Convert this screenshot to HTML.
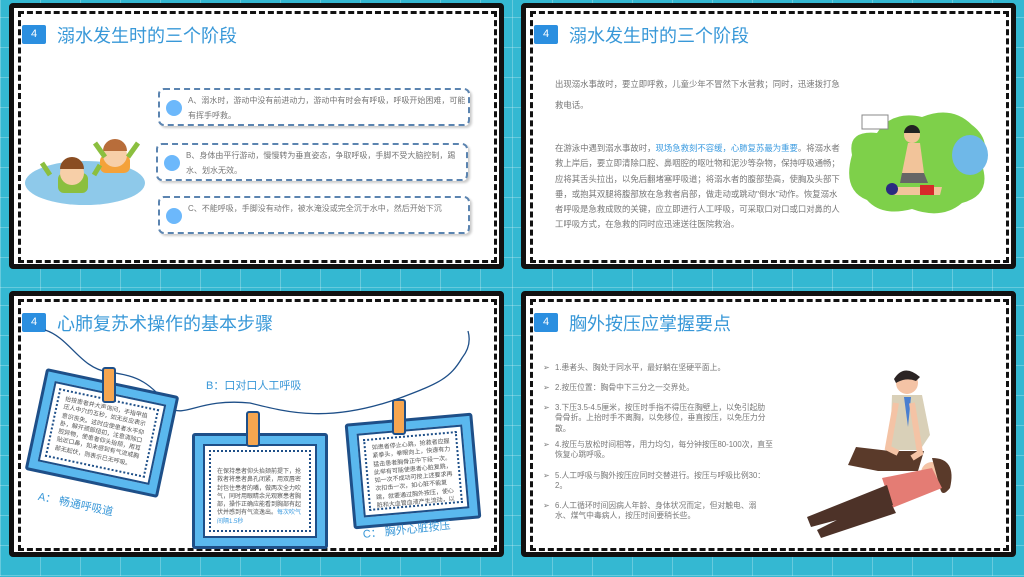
<!DOCTYPE html>
<html><head><meta charset="utf-8"><style>
*{margin:0;padding:0;box-sizing:border-box}
body{width:1024px;height:577px;overflow:hidden;background:#35b9d3;font-family:"Liberation Sans","Noto Sans CJK SC",sans-serif;position:relative}
.q{position:absolute;width:512px;height:288px;overflow:hidden;background:repeating-linear-gradient(90deg,rgba(255,255,255,.25) 0 1px,transparent 1px 40px),repeating-linear-gradient(0deg,rgba(255,255,255,.25) 0 1px,transparent 1px 30px),#34b8d2}
.card{position:absolute;left:9px;top:3px;width:495px;height:266px;background:#fff;border:5px solid #111;border-radius:4px}
.dash{position:absolute;left:18px;top:11px;width:479px;height:252px;border:3px dashed #111}
.badge{position:absolute;left:22px;top:25px;width:24px;height:19px;background:#2b8fe0;border-radius:2px;color:#fff;font-size:11px;text-align:center;line-height:19px}
.title{position:absolute;left:57px;top:22px;font-size:18px;color:#3898d8;white-space:nowrap}
.t{position:absolute;font-size:8.4px;color:#777;line-height:15px}
.box{position:absolute;left:158px;width:312px;height:38px;border:2px dashed #5b84b0;border-radius:6px;box-shadow:2px 2px 2px #ccc;background:#fff}
.box i{position:absolute;left:6px;top:10px;width:16px;height:16px;border-radius:50%;background:#6cb8fb}
.box span{position:absolute;left:28px;top:3px;width:282px;font-size:8px;color:#777;line-height:15px}
.pc{position:absolute;background:#5ab8ee;border:3px solid #1e4f88;border-radius:3px}
.pc .in{position:absolute;left:8px;top:8px;right:8px;bottom:8px;background:#fff;border:2px solid #1e4f88}
.pc .dd{position:absolute;left:4px;top:4px;right:4px;bottom:4px;border:2px dotted #1e4f88;padding:4px 6px;font-size:6px;color:#555;line-height:8.3px;overflow:hidden}
.clip{position:absolute;width:14px;height:36px;background:#f6a650;border:2px solid #1e4f88;border-radius:3px}
.lab{position:absolute;font-size:11px;color:#3a98d8;white-space:nowrap}
.li{position:absolute;left:43px;font-size:7.8px;color:#777;line-height:10.3px;width:215px}
.li b{position:absolute;left:-12px;font-weight:normal;color:#777}
</style></head><body>

<!-- Q1 -->
<div class="q" style="left:0;top:0">
<div class="card"></div><div class="dash"></div>
<div class="badge">4</div><div class="title">溺水发生时的三个阶段</div>
<div class="box" style="top:88px"><i></i><span>A、溺水时，游动中没有前进动力，游动中有时会有呼吸，呼吸开始困难，可能有挥手呼救。</span></div>
<div class="box" style="top:143px;left:156px"><i></i><span>B、身体由平行游动，慢慢转为垂直姿态，争取呼吸，手脚不受大脑控制，踢水、划水无效。</span></div>
<div class="box" style="top:196px"><i></i><span>C、不能呼吸，手脚没有动作，被水淹没或完全沉于水中，然后开始下沉</span></div>
<svg style="position:absolute;left:20px;top:135px" width="135" height="80">
<ellipse cx="65" cy="48" rx="60" ry="22" fill="#8ec9ea"/>
<rect x="80" y="20" width="30" height="18" rx="6" fill="#f4a23a"/>
<circle cx="95" cy="20" r="12" fill="#f7cfa8"/><path d="M83 16a12 12 0 0 1 24 0z" fill="#b86d3a"/>
<rect x="38" y="38" width="30" height="20" rx="6" fill="#8bbf3f"/>
<circle cx="52" cy="38" r="12" fill="#f7cfa8"/><path d="M40 34a12 12 0 0 1 24 0z" fill="#8a4d22"/>
<path d="M30 40l-8-12M74 40l6-10M85 22l-10-14M108 22l10-14" stroke="#8bbf3f" stroke-width="5"/>
</svg>
</div>

<!-- Q2 -->
<div class="q" style="left:512px;top:0">
<div class="card"></div><div class="dash"></div>
<div class="badge">4</div><div class="title">溺水发生时的三个阶段</div>
<div class="t" style="left:43px;top:74px;width:285px;line-height:20.5px">出现溺水事故时，要立即呼救，儿童少年不冒然下水营救；同时，迅速拨打急救电话。</div>
<div class="t" style="left:43px;top:141px;width:285px;line-height:15.3px">在游泳中遇到溺水事故时，<span style="color:#3b9be0">现场急救刻不容缓，心肺复苏最为重要</span>。将溺水者救上岸后，要立即清除口腔、鼻咽腔的呕吐物和泥沙等杂物，保持呼吸通畅；应将其舌头拉出，以免后翻堵塞呼吸道；将溺水者的腹部垫高，使胸及头部下垂，或抱其双腿将腹部放在急救者肩部，做走动或跳动"倒水"动作。恢复溺水者呼吸是急救成败的关键，应立即进行人工呼吸，可采取口对口或口对鼻的人工呼吸方式，在急救的同时应迅速送往医院救治。</div>
<svg style="position:absolute;left:330px;top:105px" width="150" height="112">
<path d="M10 50 Q5 25 35 28 Q50 5 80 12 Q110 0 130 20 Q150 35 140 60 Q150 90 120 98 Q100 115 70 104 Q40 112 25 95 Q0 85 10 50z" fill="#7ed04a"/>
<ellipse cx="128" cy="50" rx="18" ry="20" fill="#6fb8e8"/>
<rect x="20" y="10" width="26" height="14" fill="#fff" stroke="#888"/>
<circle cx="70" cy="30" r="8" fill="#f2c49a"/><path d="M62 28a8 8 0 0 1 16 0z" fill="#222"/>
<path d="M66 38l-6 30h22l-4-30z" fill="#f2c49a"/><path d="M60 68h22l4 10h-28z" fill="#666"/>
<path d="M50 82h50l-2 8h-48z" fill="#f2c49a"/><rect x="78" y="80" width="14" height="10" fill="#d62a2a"/>
<circle cx="50" cy="84" r="6" fill="#2a2a80"/>
</svg>
</div>

<!-- Q3 -->
<div class="q" style="left:0;top:288px">
<div class="card"></div><div class="dash"></div>
<div class="badge">4</div><div class="title">心肺复苏术操作的基本步骤</div>
<svg style="position:absolute;left:0;top:0" width="512" height="288">
<path d="M45 42 C70 50 80 80 108 84 C140 88 150 95 170 120 C185 130 200 110 250 115 C290 125 330 135 400 110 C440 95 450 90 462 70 C470 60 470 50 468 43" stroke="#1e4f88" stroke-width="1.3" fill="none"/>
</svg>
<div class="pc" style="left:34px;top:93px;width:136px;height:104px;transform:rotate(12deg)"><div class="in"><div class="dd">抬按患者并大声询问，手指甲掐压人中穴约五秒，如无反应表示意识丧失。这时应使患者水平仰卧，解开颈部纽扣，注意清除口腔异物，使患者仰头抬颏，用耳贴近口鼻，如未感到有气流或胸部无起伏，则表示已无呼吸。</div></div></div>
<div class="clip" style="left:102px;top:79px"></div>
<div class="pc" style="left:192px;top:145px;width:136px;height:116px"><div class="in"><div class="dd" style="padding-top:16px">在保持患者仰头抬颏前提下，抢救者将患者鼻孔闭紧，用双唇密封包住患者的嘴，做两次全力吹气，同时用眼睛余光观察患者胸部，操作正确应能看到胸部有起伏并感到有气流逸出。<span style="color:#3b9be0">每次吹气间隔1.5秒</span></div></div></div>
<div class="clip" style="left:246px;top:123px"></div>
<div class="pc" style="left:349px;top:130px;width:128px;height:106px;transform:rotate(-5deg)"><div class="in"><div class="dd">如患者停止心跳，抢救者应握紧拳头，拳眼向上，快速有力猛击患者胸骨正中下段一次。此举有可能使患者心脏复跳，如一次不成功可按上述要求再次扣击一次，如心脏不能复跳，就要通过胸外按压，使心脏和大血管血液产生流动，以维持心、脑等主要器官最低血液需要量。</div></div></div>
<div class="clip" style="left:392px;top:111px"></div>
<div class="lab" style="left:206px;top:89px">B：口对口人工呼吸</div>
<div class="lab" style="left:40px;top:200px;transform:rotate(12deg);transform-origin:left top">A： 畅通呼吸道</div>
<div class="lab" style="left:362px;top:238px;transform:rotate(-6deg);transform-origin:left top">C： 胸外心脏按压</div>
</div>

<!-- Q4 -->
<div class="q" style="left:512px;top:288px">
<div class="card"></div><div class="dash"></div>
<div class="badge">4</div><div class="title">胸外按压应掌握要点</div>
<div class="li" style="top:75px;width:240px"><b>➢</b>1.患者头、胸处于同水平，最好躺在坚硬平面上。</div>
<div class="li" style="top:95px"><b>➢</b>2.按压位置：胸骨中下三分之一交界处。</div>
<div class="li" style="top:115px"><b>➢</b>3.下压3.5-4.5厘米，按压时手指不得压在胸壁上，以免引起肋骨骨折。上抬时手不离胸，以免移位，垂直按压，以免压力分散。</div>
<div class="li" style="top:152px;width:225px"><b>➢</b>4.按压与放松时间相等，用力均匀，每分钟按压80-100次，直至恢复心跳呼吸。</div>
<div class="li" style="top:183px;width:212px"><b>➢</b>5.人工呼吸与胸外按压应同时交替进行。按压与呼吸比例30：2。</div>
<div class="li" style="top:213px;width:210px"><b>➢</b>6.人工循环时间因病人年龄、身体状况而定，但对触电、溺水、煤气中毒病人，按压时间要稍长些。</div>
<svg style="position:absolute;left:280px;top:75px" width="170" height="175">
<circle cx="115" cy="20" r="11" fill="#f4c3a5"/><path d="M102 16q10-16 26-2l-4 4q-10-4-20 2z" fill="#2b2424"/>
<path d="M100 32h30l8 40-10 15h-30z" fill="#d9d0b8"/><path d="M112 34l4 30 3-30z" fill="#4a7fd0"/>
<path d="M98 88h34l-6 20h-40l-30-6 8-18z" fill="#5a3a2a"/>
<path d="M120 40l8 50-8 5M104 40l-8 45 10 5" stroke="#f4c3a5" stroke-width="6" fill="none"/>
<circle cx="140" cy="110" r="11" fill="#f4c3a5"/><path d="M140 95q25 0 18 30q-8 10-10 0z" fill="#5a3a2a"/>
<path d="M90 115l50-10 10 20-50 20z" fill="#e47c74"/>
<path d="M95 122l-80 32 4 10 82-22zM95 132l-70 35 4 8 75-25z" fill="#4d3228"/>
</svg>
</div>

</body></html>
